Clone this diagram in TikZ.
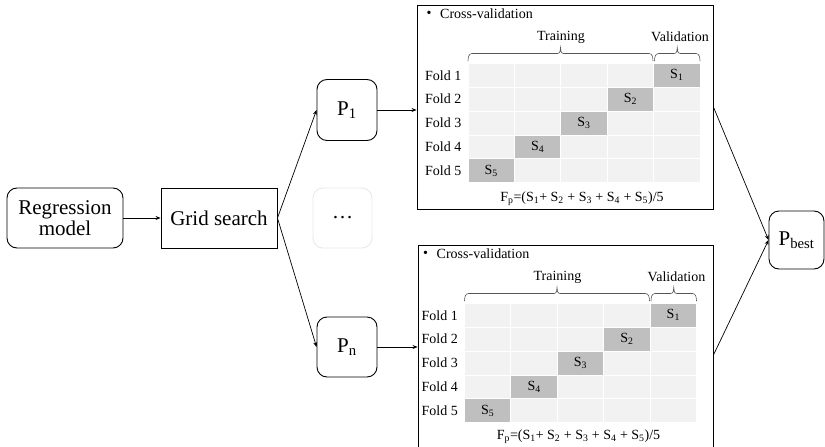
\documentclass[tikz,border=0pt]{standalone}
\usepackage{fontspec}
\setmainfont{Liberation Serif}
\usetikzlibrary{arrows.meta,calc}
\definecolor{cellL}{HTML}{F2F2F2}
\definecolor{cellD}{HTML}{BFBFBF}
\definecolor{faint}{HTML}{E8E8E8}
\definecolor{brcol}{HTML}{555555}
\newcommand{\bigf}{\fontsize{21}{24}\selectfont}
\newcommand{\smallf}{\fontsize{14}{16}\selectfont}
\newcommand{\mybrace}[2]{%
  \pgfmathsetmacro{\xm}{(#1+#2)/2}
  \draw[brc] (#1,61) to[out=90,in=180] (#1+4,53.5) -- (\xm-3,53.5)
    to[out=0,in=-90] (\xm,47.5) to[out=-90,in=180] (\xm+3,53.5)
    -- (#2-4,53.5) to[out=0,in=90] (#2,61);}
\newcommand{\cvcontent}[3]{%
  \begin{scope}[shift={(#1,#2)}]
    \node[lbl,anchor=center] (bul#2) at (429,14) {•};
    \node[lbl,anchor=west] (cv#2) at (440,14) {Cross-validation};
    \node[lbl] (tr#2) at (561,37) {Training};
    \node[lbl] (va#2) at (680,37) {Validation};
    \mybrace{468}{653}
    \mybrace{654.5}{700}
    \foreach \r in {1,...,5}{
      \foreach \c in {1,...,5}{
        \pgfmathsetmacro{\xa}{468+(\c-1)*46.4+0.5}
        \pgfmathsetmacro{\xb}{468+\c*46.4-0.5}
        \pgfmathsetmacro{\ya}{63.3+(\r-1)*23.9+0.5}
        \pgfmathsetmacro{\yb}{63.3+\r*23.9-0.5}
        \pgfmathtruncatemacro{\dk}{(\c+\r)==6 ? 1 : 0}
        \ifnum\dk=1
          \fill[cellD] (\xa,\ya) rectangle (\xb,\yb);
          \node[lbl] (s\r#2) at ({(\xa+\xb)/2},{(\ya+\yb)/2}) {S\textsubscript{\r}};
        \else
          \fill[cellL] (\xa,\ya) rectangle (\xb,\yb);
        \fi
      }
      \node[lbl,anchor=west] (f\r#2) at (425,{63.3+(\r-0.5)*23.9}) {Fold \r};
    }
    \node[lbl] (fm#2) at (582,#3) {F\textsubscript{p}=(S\textsubscript{1}+ S\textsubscript{2} + S\textsubscript{3} + S\textsubscript{4} + S\textsubscript{5})/5};
  \end{scope}}
\begin{document}
\begin{tikzpicture}[x=1pt,y=-1pt,
  lbl/.style={inner sep=0pt,font=\smallf},
  rbox/.style={draw,line width=0.9pt,rounded corners=10pt,inner sep=0pt,font=\bigf,align=center},
  sbox/.style={draw,line width=0.9pt,inner sep=0pt,font=\bigf,align=center},
  arr/.style={line width=0.7pt,-{Stealth[length=5pt,width=4pt]}},
  brc/.style={line width=0.6pt,draw=brcol}]
\useasboundingbox (0,0) rectangle (825,447);
\clip (0,0) rectangle (825,447);
\node[rbox,minimum width=116pt,minimum height=60pt] (reg) at (65,218) {Regression\\[-3pt]model};
\node[sbox,minimum width=116pt,minimum height=60pt] (grid) at (219,218) {Grid search};
\node[rbox,minimum width=60pt,minimum height=61pt] (p1) at (347,110) {P\textsubscript{1}};
\node[rbox,draw=faint,minimum width=59pt,minimum height=60pt] (dots) at (342.5,218) {…};
\node[rbox,minimum width=60pt,minimum height=60pt] (pn) at (347,347) {P\textsubscript{n}};
\node[rbox,minimum width=55pt,minimum height=58pt] (best) at (796.5,240) {P\textsubscript{best}};
\node[sbox,minimum width=296pt,minimum height=204pt] (cvA) at (565,107) {};
\node[sbox,minimum width=295pt,minimum height=220pt] (cvB) at (565.5,355) {};
\cvcontent{0}{0}{199}
\cvcontent{-3.5}{240}{197}
\draw[arr] (reg) -- (grid);
\draw[arr] (grid.east) -- (p1.west);
\draw[arr] (grid.east) -- (pn.west);
\draw[arr] (p1.east) -- (p1.east -| cvA.west);
\draw[arr] (pn.east) -- (pn.east -| cvB.west);
\draw[arr] (cvA.east) -- (best.west);
\draw[arr] (cvB.east) -- (best.west);
\end{tikzpicture}
\end{document}
